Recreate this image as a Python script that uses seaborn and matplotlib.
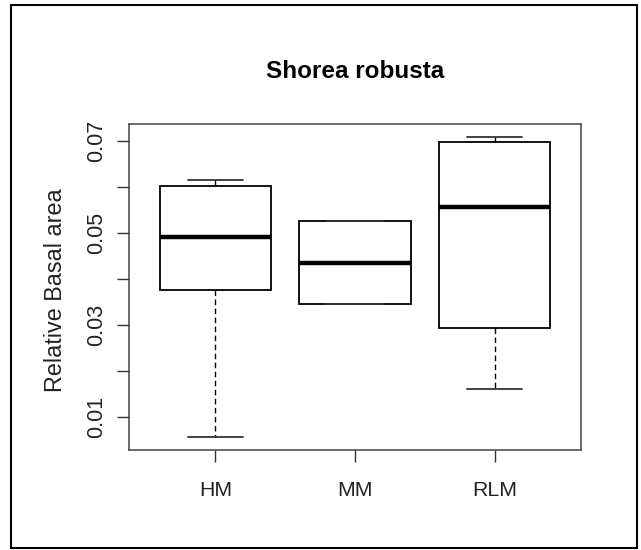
import numpy as np
import pandas as pd
import matplotlib
matplotlib.use("Agg")
import matplotlib.pyplot as plt
from matplotlib.patches import Rectangle
import seaborn as sns

# Relative basal area of Shorea robusta per site (five-number samples)
sites = ["HM", "MM", "RLM"]
hm_values = [0.0057, 0.0376, 0.0492, 0.0603, 0.0615]
mm_values = [0.0345, 0.0345, 0.0436, 0.0526, 0.0526]
rlm_values = [0.0162, 0.0295, 0.0557, 0.0697, 0.0709]

ytick_values = [0.01, 0.02, 0.03, 0.04, 0.05, 0.06, 0.07]
ytick_labels = ["0.01", "", "0.03", "", "0.05", "", "0.07"]

df = pd.DataFrame({
    "site": ["HM"] * len(hm_values) + ["MM"] * len(mm_values) + ["RLM"] * len(rlm_values),
    "rba": hm_values + mm_values + rlm_values,
})

sns.set_theme(style="ticks")
plt.rcParams["font.family"] = ["Liberation Sans", "DejaVu Sans"]
regular = ["Liberation Sans", "DejaVu Sans"]

fig = plt.figure(figsize=(6.41, 5.50), dpi=100, facecolor="white")
ax = fig.add_axes([129 / 641, 1 - 450 / 550, 452 / 641, 326 / 550])

sns.boxplot(
    data=df, x="site", y="rba", order=sites, ax=ax,
    width=0.8, color="white", saturation=1, linecolor="black",
    linewidth=1.3, showfliers=False, whis=1.5,
    medianprops=dict(linewidth=3.2, color="black"),
    whiskerprops=dict(linestyle=(0, (4, 2.5)), linewidth=1.0, color="black"),
    capprops=dict(linewidth=1.3, color="#333333"),
)

ax.set_xlim(-0.62, 2.62)
ax.set_ylim(0.0029, 0.0737)

ax.set_yticks(ytick_values)
ax.set_yticklabels(ytick_labels, rotation=90, va="center",
                   fontsize=15.5, family=regular, color="#222222")
ax.set_xticks(range(len(sites)))
ax.set_xticklabels(sites, fontsize=15.3, family=regular, color="#222222")

ax.tick_params(axis="y", length=8.6, width=1.0, color="#333333", pad=7)
ax.tick_params(axis="x", length=8.6, width=1.0, color="#333333", pad=14)

for side in ["top", "right", "bottom", "left"]:
    ax.spines[side].set_visible(True)
    ax.spines[side].set_color("#444444")
    ax.spines[side].set_linewidth(1.1)

ax.set_xlabel("")
ax.set_ylabel("Relative Basal area", fontsize=16.8, family=regular, color="#222222")
ax.yaxis.set_label_coords(-0.138, 0.49)

ax.set_title("Shorea robusta", fontsize=17.5, fontweight="bold",
             family=regular, color="black", pad=33)

# frame around the whole figure
fig.patches.append(Rectangle((11 / 641, 1 - 548 / 550), 626 / 641, 543 / 550,
                             transform=fig.transFigure, fill=False,
                             edgecolor="black", linewidth=1.5, zorder=10))

fig.savefig("out.png", dpi=100, facecolor="white")
